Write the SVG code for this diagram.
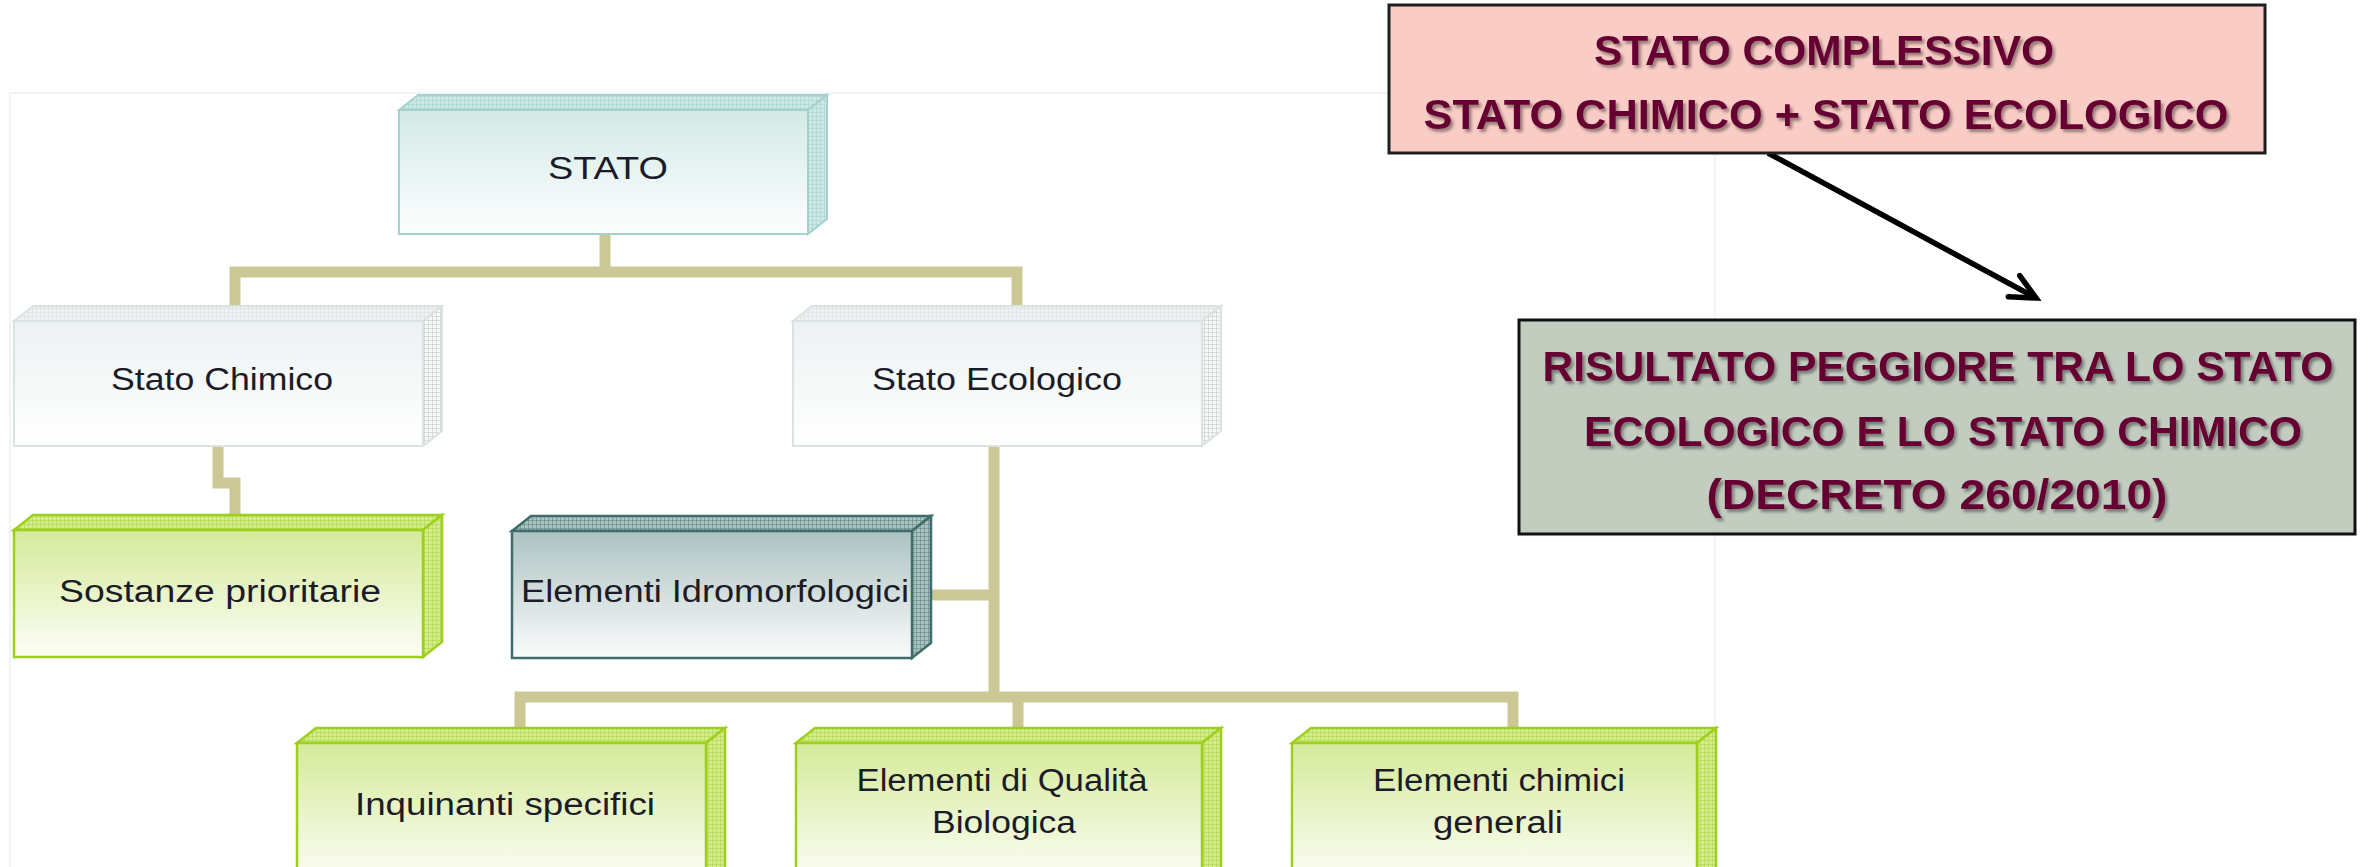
<svg xmlns="http://www.w3.org/2000/svg" width="2369" height="867" viewBox="0 0 2369 867">
<style>
.conn{fill:none;stroke:#cbc896;stroke-width:11;stroke-linejoin:miter;stroke-linecap:butt}
.lbl{font-family:"Liberation Sans",Arial,sans-serif;font-size:31px;fill:#1c1c28;text-anchor:middle}
.big{font-family:"Liberation Sans",Arial,sans-serif;font-weight:bold;font-size:43px;fill:#660033;text-anchor:middle;filter:url(#tshadow)}
.teal .front{fill:url(#fTeal);stroke:#a3d2ce;stroke-width:2}
.teal .top,.teal .side{fill:url(#pTeal);stroke:#a3d2ce;stroke-width:2}
.gray .front{fill:url(#fGray);stroke:#dbe2e2;stroke-width:2}
.gray .top{fill:url(#pGray);stroke:#dbe2e2;stroke-width:2}
.gray .side{fill:url(#pGraySide);stroke:#dbe2e2;stroke-width:2}
.green .front{fill:url(#fGreen);stroke:#9dcf1c;stroke-width:2.5}
.green .top,.green .side{fill:url(#pGreen);stroke:#9dcf1c;stroke-width:2.5}
.dark .front{fill:url(#fDark);stroke:#3f6d6b;stroke-width:2.5}
.dark .top,.dark .side{fill:url(#pDark);stroke:#3f6d6b;stroke-width:2.5}
</style>
<defs>
<filter id="tshadow" x="-5%" y="-20%" width="110%" height="150%">
<feDropShadow dx="2.5" dy="3" stdDeviation="1.5" flood-color="#000" flood-opacity="0.4"/>
</filter>
<linearGradient id="fTeal" x1="0" y1="0" x2="0" y2="1"><stop offset="0" stop-color="#d3eae7"/><stop offset="1" stop-color="#fdfefe"/></linearGradient>
<linearGradient id="fGray" x1="0" y1="0" x2="0" y2="1"><stop offset="0" stop-color="#edf2f2"/><stop offset="1" stop-color="#ffffff"/></linearGradient>
<linearGradient id="fGreen" x1="0" y1="0" x2="0" y2="1"><stop offset="0" stop-color="#d5ea9a"/><stop offset="1" stop-color="#fdfef7"/></linearGradient>
<linearGradient id="fDark" x1="0" y1="0" x2="0" y2="1"><stop offset="0" stop-color="#adc2c2"/><stop offset="1" stop-color="#fafbfb"/></linearGradient>
<pattern id="pTeal" width="4" height="4" patternUnits="userSpaceOnUse"><rect width="4" height="4" fill="#cde8e5"/><path d="M0 0H4M0 0V4" stroke="#9fd0cb" stroke-width="1"/></pattern>
<pattern id="pGray" width="4" height="4" patternUnits="userSpaceOnUse"><rect width="4" height="4" fill="#eef2f2"/><path d="M0 0H4M0 0V4" stroke="#d6dede" stroke-width="1"/></pattern>
<pattern id="pGraySide" width="4" height="4" patternUnits="userSpaceOnUse"><rect width="4" height="4" fill="#f7f9f9"/><path d="M0 0H4M0 0V4" stroke="#b9c2c2" stroke-width="1"/></pattern>
<pattern id="pGreen" width="4" height="4" patternUnits="userSpaceOnUse"><rect width="4" height="4" fill="#d4ec8f"/><path d="M0 0H4M0 0V4" stroke="#a6d43a" stroke-width="1"/></pattern>
<pattern id="pDark" width="4" height="4" patternUnits="userSpaceOnUse"><rect width="4" height="4" fill="#a9c1bf"/><path d="M0 0H4M0 0V4" stroke="#557f7d" stroke-width="1"/></pattern>
<marker id="openArrow" markerUnits="userSpaceOnUse" markerWidth="40" markerHeight="40" refX="0" refY="0" orient="auto" overflow="visible">
<path d="M-25 -12 L0 0 L-25 12" fill="none" stroke="#000" stroke-width="5.5" stroke-linecap="round" stroke-linejoin="miter"/>
</marker>
</defs>
<rect x="0" y="0" width="2369" height="867" fill="#ffffff"/>
<rect id="panel" x="10" y="93" width="1705" height="800" fill="#ffffff" stroke="#efefef" stroke-width="1.5"/>

<g id="connectors">
<path class="conn" d="M605 234V272"/>
<path class="conn" d="M235 306V272H1017V306"/>
<path class="conn" d="M218 446V483H235V516"/>
<path class="conn" d="M994 446V697"/>
<path class="conn" d="M931 595H994"/>
<path class="conn" d="M520 729V697H1513V729"/>
<path class="conn" d="M1018 697V729"/>
<line x1="1768" y1="153" x2="2036" y2="298" stroke="#000" stroke-width="5.5" marker-end="url(#openArrow)"/>
</g>

<g id="node-stato" class="teal">
<polygon class="top" points="399,110 418,95 827,95 808,110"/>
<polygon class="side" points="808,110 827,95 827,219 808,234"/>
<rect class="front" x="399" y="110" width="409" height="124"/>
<text class="lbl" x="608" y="179" font-size="32" textLength="120" lengthAdjust="spacingAndGlyphs">STATO</text>
</g>

<g id="node-stato-chimico" class="gray">
<polygon class="top" points="14,321 33,306 442,306 423,321"/>
<polygon class="side" points="423,321 442,306 442,431 423,446"/>
<rect class="front" x="14" y="321" width="409" height="125"/>
<text class="lbl" x="222" y="390" textLength="222" lengthAdjust="spacingAndGlyphs">Stato Chimico</text>
</g>

<g id="node-stato-ecologico" class="gray">
<polygon class="top" points="793,321 812,306 1221,306 1202,321"/>
<polygon class="side" points="1202,321 1221,306 1221,431 1202,446"/>
<rect class="front" x="793" y="321" width="409" height="125"/>
<text class="lbl" x="997" y="390" textLength="250" lengthAdjust="spacingAndGlyphs">Stato Ecologico</text>
</g>

<g id="node-sostanze" class="green">
<polygon class="top" points="14,530 33,515 442,515 423,530"/>
<polygon class="side" points="423,530 442,515 442,642 423,657"/>
<rect class="front" x="14" y="530" width="409" height="127"/>
<text class="lbl" x="220" y="602" textLength="322" lengthAdjust="spacingAndGlyphs">Sostanze prioritarie</text>
</g>

<g id="node-idromorfologici" class="dark">
<polygon class="top" points="512,531 531,516 931,516 912,531"/>
<polygon class="side" points="912,531 931,516 931,643 912,658"/>
<rect class="front" x="512" y="531" width="400" height="127"/>
<text class="lbl" x="715" y="602" textLength="388" lengthAdjust="spacingAndGlyphs">Elementi Idromorfologici</text>
</g>

<g id="node-inquinanti" class="green">
<polygon class="top" points="297,743 316,728 725,728 706,743"/>
<polygon class="side" points="706,743 725,728 725,868 706,883"/>
<rect class="front" x="297" y="743" width="409" height="140"/>
<text class="lbl" x="505" y="815" textLength="300" lengthAdjust="spacingAndGlyphs">Inquinanti specifici</text>
</g>

<g id="node-qualita" class="green">
<polygon class="top" points="796,743 815,728 1221,728 1202,743"/>
<polygon class="side" points="1202,743 1221,728 1221,868 1202,883"/>
<rect class="front" x="796" y="743" width="406" height="140"/>
<text class="lbl" x="1002" y="791" textLength="291" lengthAdjust="spacingAndGlyphs">Elementi di Qualità</text>
<text class="lbl" x="1004" y="833" textLength="144" lengthAdjust="spacingAndGlyphs">Biologica</text>
</g>

<g id="node-chimici-generali" class="green">
<polygon class="top" points="1292,743 1311,728 1716,728 1697,743"/>
<polygon class="side" points="1697,743 1716,728 1716,868 1697,883"/>
<rect class="front" x="1292" y="743" width="405" height="140"/>
<text class="lbl" x="1499" y="791" textLength="252" lengthAdjust="spacingAndGlyphs">Elementi chimici</text>
<text class="lbl" x="1498" y="833" textLength="130" lengthAdjust="spacingAndGlyphs">generali</text>
</g>

<g id="node-complessivo">
<rect x="1389" y="5" width="876" height="148" fill="#f9cdc5" stroke="#1e1e1e" stroke-width="3"/>
<text class="big" x="1824" y="65" textLength="460" lengthAdjust="spacingAndGlyphs">STATO COMPLESSIVO</text>
<text class="big" x="1826" y="129" textLength="805" lengthAdjust="spacingAndGlyphs">STATO CHIMICO + STATO ECOLOGICO</text>
</g>

<g id="node-risultato">
<rect x="1519" y="320" width="836" height="214" fill="#c2cdc0" stroke="#111111" stroke-width="3"/>
<text class="big" x="1938" y="381" textLength="791" lengthAdjust="spacingAndGlyphs">RISULTATO PEGGIORE TRA LO STATO</text>
<text class="big" x="1943" y="446" textLength="718" lengthAdjust="spacingAndGlyphs">ECOLOGICO E LO STATO CHIMICO</text>
<text class="big" x="1937" y="509" textLength="461" lengthAdjust="spacingAndGlyphs">(DECRETO 260/2010)</text>
</g>
</svg>
